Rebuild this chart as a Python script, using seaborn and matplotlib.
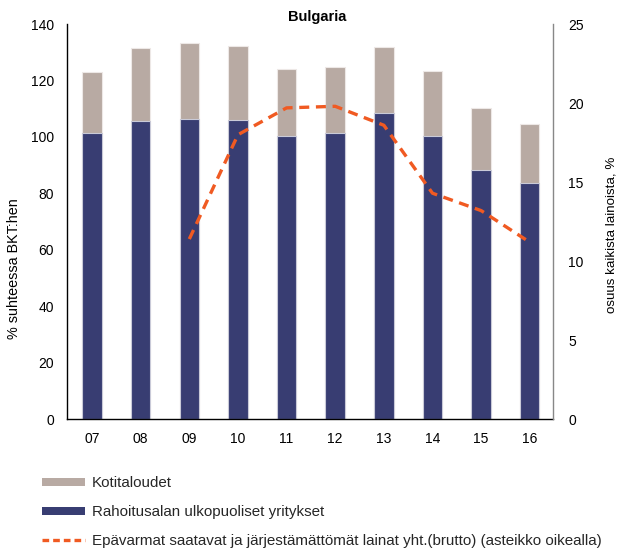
import numpy as np
import pandas as pd
import matplotlib
matplotlib.use("Agg")
import matplotlib.pyplot as plt
from matplotlib.patches import Patch
from matplotlib.lines import Line2D
import seaborn as sns

years = ["07", "08", "09", "10", "11", "12", "13", "14", "15", "16"]
yritykset = [101.3, 105.7, 106.5, 106.0, 100.2, 101.4, 108.5, 100.2, 88.3, 83.7]
kotitaloudet = [21.8, 25.7, 26.9, 26.3, 23.8, 23.3, 23.4, 23.3, 21.9, 20.9]
epavarmat = [np.nan, np.nan, 11.4, 18.0, 19.7, 19.8, 18.6, 14.3, 13.2, 11.2]

sns.set_theme(style="white")
plt.rcParams['font.family'] = ['Liberation Sans', 'DejaVu Sans']

navy = "#383D72"
taupe = "#B8AAA3"
orange = "#F05A22"

df = pd.DataFrame({"year": years, "yr": yritykset, "kt": kotitaloudet})
df["total"] = df["yr"] + df["kt"]

fig = plt.figure(figsize=(6.18, 5.48), dpi=100)
ax = fig.add_axes([0.108, 0.235, 0.787, 0.721])

sns.barplot(data=df, x="year", y="total", color=taupe, width=0.4, ax=ax,
            edgecolor="#EDE8E6", linewidth=0.8, saturation=1)
sns.barplot(data=df, x="year", y="yr", color=navy, width=0.4, ax=ax,
            edgecolor="#C9CAD8", linewidth=0.8, saturation=1)

ax.set_ylim(0, 140)
ax.set_yticks(range(0, 141, 20))
ax.set_xlim(-0.52, 9.48)
ax.set_xlabel("")
ax.set_ylabel("% suhteessa BKT:hen", fontsize=10.4, color="black")
ax.yaxis.set_label_coords(-0.095, 0.38)
ax.tick_params(axis="y", labelsize=10, colors="black", length=0, pad=9)
ax.tick_params(axis="x", labelsize=10, colors="black", length=0, pad=9)
for s in ["top", "right"]:
    ax.spines[s].set_visible(False)
ax.spines["left"].set_color("black")
ax.spines["bottom"].set_color("black")
ax.spines["left"].set_linewidth(1.0)
ax.spines["bottom"].set_linewidth(1.0)

ax2 = ax.twinx()
x_idx = np.arange(len(years))
sns.lineplot(x=x_idx, y=epavarmat, ax=ax2, color=orange, linewidth=2.4,
             dashes=False, linestyle=(0, (3, 2)))
ax2.set_ylim(0, 25)
ax2.set_yticks(range(0, 26, 5))
ax2.set_xlim(-0.52, 9.48)
ax2.tick_params(axis="y", labelsize=10, colors="black", length=0, pad=11)
ax2.set_ylabel("osuus kaikista lainoista, %", fontsize=9.6, color="black",
               rotation=90)
ax2.yaxis.set_label_coords(1.107, 0.466)
for s in ["top", "left", "bottom"]:
    ax2.spines[s].set_visible(False)
ax2.spines["right"].set_color("#888888")
ax2.spines["right"].set_linewidth(1.0)

ax.set_title("Bulgaria", fontsize=10.5, fontweight="bold", pad=1, color="black",
             x=0.515)

handles = [
    Patch(facecolor=taupe, edgecolor="none"),
    Patch(facecolor=navy, edgecolor="none"),
    Line2D([0], [0], color=orange, linewidth=2.4, linestyle=(0, (2, 1.2))),
]
labels = [
    "Kotitaloudet",
    "Rahoitusalan ulkopuoliset yritykset",
    "Epävarmat saatavat ja järjestämättömät lainat yht.(brutto) (asteikko oikealla)",
]
fig.legend(handles, labels, loc="lower left", bbox_to_anchor=(0.046, -0.025),
           frameon=False, fontsize=10.9, handlelength=2.85, handleheight=0.4,
           handletextpad=0.45, labelspacing=0.98)

fig.savefig("out.png", dpi=100)
